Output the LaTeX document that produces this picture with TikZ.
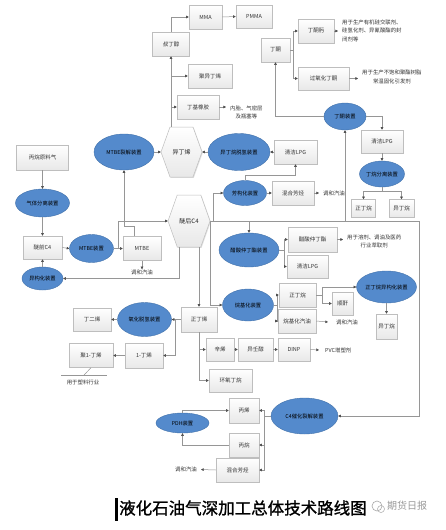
\documentclass[tikz,border=0pt]{standalone}
\usepackage{fontspec}
\newfontfamily\cjk{Noto Sans CJK SC}
\newfontfamily\cjkt[FakeBold=1.2]{Noto Sans CJK SC}
\usetikzlibrary{arrows.meta,shadows,calc,shapes.geometric}
\definecolor{boxline}{RGB}{190,190,190}
\definecolor{ellfill}{RGB}{84,138,204}
\definecolor{ellline}{RGB}{65,113,170}
\definecolor{connc}{RGB}{150,150,150}
\tikzset{
 sz/.style 2 args={minimum width=#1pt,minimum height=#2pt},
 box/.style={draw=boxline, line width=0.5pt, top color=white, bottom color=black!9,
   drop shadow={opacity=0.25,shadow xshift=0.8pt,shadow yshift=-0.8pt},
   inner sep=0pt, font=\cjk\fontsize{5.5}{6.5}\selectfont, text=black!80},
 ell/.style={ellipse, draw=ellline, fill=ellfill, line width=0.4pt, inner sep=0pt,
   font=\cjk\fontsize{5.3}{6.3}\selectfont, text=black},
 hexnode/.style={inner sep=0pt, font=\cjk\fontsize{6}{7}\selectfont, text=black!85},
 note/.style={inner sep=0pt, font=\cjk\fontsize{5.4}{8.5}\selectfont, text=black!80},
 conn/.style={draw=connc, line width=0.5pt},
 arr/.style={conn, -{Triangle[length=2.6pt,width=2.6pt,color=black!70]}},
}
\newcommand\myhex[4]{%
 \path[draw=boxline, line width=0.5pt, top color=white, bottom color=black!9,
   drop shadow={opacity=0.25,shadow xshift=0.8pt,shadow yshift=-0.8pt}]
  ({#1-#3/2},#2) -- ({#1-0.28*#3},{#2-#4/2}) -- ({#1+0.28*#3},{#2-#4/2}) --
  ({#1+#3/2},#2) -- ({#1+0.28*#3},{#2+#4/2}) -- ({#1-0.28*#3},{#2+#4/2}) -- cycle;}
\begin{document}
\begin{tikzpicture}[x=1pt,y=-1pt]
\fill[white] (0,0) rectangle (445,530);
\useasboundingbox (0,0) rectangle (445,530);

% hexagons
\myhex{181.5}{152}{41}{50}
\node[hexnode,sz={41}{50}] (ydx) at (181.5,152) {异丁烯};
\myhex{189}{221}{42}{52}
\node[hexnode,sz={42}{52}] (mhc) at (189,221) {醚后C4};

% boxes
\node[box,sz={33}{24}] (mma) at (205.5,17) {MMA};
\node[box,sz={36}{23}] (pmma) at (254,16.5) {PMMA};
\node[box,sz={37}{24}] (sdc) at (171,44) {叔丁醇};
\node[box,sz={44}{24}] (jyx) at (210,76) {聚异丁烯};
\node[box,sz={42}{24}] (djxj) at (198,107) {丁基橡胶};
\node[box,sz={29}{24}] (dt) at (275.5,50) {丁酮};
\node[box,sz={36}{24}] (dtw) at (316,31) {丁酮肟};
\node[box,sz={51}{23}] (gydt) at (323.5,78.5) {过氧化丁酮};
\node[box,sz={42}{23}] (lpga) at (382,141.5) {清洁LPG};
\node[box,sz={24}{18}] (zdwa) at (363.5,208.5) {正丁烷};
\node[box,sz={25}{18}] (ydwa) at (401.5,208.5) {异丁烷};
\node[box,sz={52}{25}] (bwyl) at (42.5,157.5) {丙烷原料气};
\node[box,sz={39}{23}] (mqc) at (42.5,247.5) {醚前C4};
\node[box,sz={38}{24}] (mtbe) at (142,248.5) {MTBE};
\node[box,sz={43}{24}] (lpgb) at (295.5,152) {清洁LPG};
\node[box,sz={42}{24}] (hhfa) at (293,193) {混合芳烃};
\node[box,sz={49}{25}] (cszz) at (312.5,239.5) {醋酸仲丁酯};
\node[box,sz={41}{23}] (lpgc) at (307.5,266.5) {清洁LPG};
\node[box,sz={37}{24}] (zdwb) at (297.5,295) {正丁烷};
\node[box,sz={38}{24}] (wjqy) at (297,321) {烷基化汽油};
\node[box,sz={21}{23}] (sg) at (342.5,303.5) {顺酐};
\node[box,sz={21}{25}] (ydwb) at (386.5,326.5) {异丁烷};
\node[box,sz={36}{25}] (zdx) at (199,319.5) {正丁烯};
\node[box,sz={38}{23}] (dex) at (92,319.5) {丁二烯};
\node[box,sz={38}{25}] (yd) at (144,355.5) {1-丁烯};
\node[box,sz={44}{24}] (jyd) at (91,355.5) {聚1-丁烯};
\node[box,sz={28}{23}] (xx) at (220,349.5) {辛烯};
\node[box,sz={35}{23}] (yrc) at (255.5,349.5) {异壬醇};
\node[box,sz={32}{23}] (dinp) at (294,349.5) {DINP};
\node[box,sz={43}{23}] (hydw) at (230.5,380.5) {环氧丁烷};
\node[box,sz={30}{25}] (bx) at (244,410.5) {丙烯};
\node[box,sz={30}{24}] (bw) at (244,445) {丙烷};
\node[box,sz={43}{24}] (hhfb) at (237.5,470) {混合芳烃};

% ellipses
\node[ell,sz={42}{27}] (dtzz) at (345,116.5) {丁酮装置};
\node[ell,sz={42}{26}] (dwfl) at (382,174) {丁烷分离装置};
\node[ell,sz={54}{28}] (qtfl) at (42.5,203) {气体分离装置};
\node[ell,sz={44}{28}] (mtzz) at (91.5,248.5) {MTBE装置};
\node[ell,sz={60}{36}] (mtlj) at (124,152) {MTBE裂解装置};
\node[ell,sz={62}{37}] (ydtq) at (239,152) {异丁烷脱氢装置};
\node[ell,sz={43}{25}] (fgh) at (245,193) {芳构化装置};
\node[ell,sz={41}{23}] (ygh) at (42.5,278.5) {异构化装置};
\node[ell,sz={60}{34}] (cszd) at (249,250) {醋酸仲丁酯装置};
\node[ell,sz={51}{32}] (wjh) at (248,305) {烷基化装置};
\node[ell,sz={59}{32}] (zdyg) at (386.5,287) {正丁烷异构化装置};
\node[ell,sz={54}{34}] (yhtq) at (144.5,319.5) {氧化脱氢装置};
\node[ell,sz={67}{36}] (cfour) at (304.5,416) {C4催化裂解装置};
\node[ell,sz={53}{20}] (pdh) at (182.5,423) {PDH装置};

% notes
\node[note,align=center,anchor=west] (tnt) at (230,112.5) {内胎、气密层\\及瓶塞等};
\node[note,align=left,anchor=west] (tdtw) at (342,30.5) {用于生产有机硅交联剂、\\硅氢化剂、异氰酸酯的封\\闭剂等};
\node[note,align=center,anchor=west] (tgy) at (362,77) {用于生产不饱和聚酯树脂\\常温固化引发剂};
\node[note,align=center,anchor=west] (tcs) at (347,241.5) {用于溶剂、调油及医药\\行业萃取剂};
\node[note] (thy1) at (142,272) {调和汽油};
\node[note,anchor=west] (thy2) at (323,193) {调和汽油};
\node[note,anchor=west] (thy3) at (336,322) {调和汽油};
\node[note,anchor=west] (tpvc) at (325,350) {PVC增塑剂};
\node[note,anchor=east] (thy4) at (197,469.5) {调和汽油};
\node[note] (tsl) at (83,382) {用于塑料行业};

% helper coordinates
\coordinate (dtj) at (293,50);
\coordinate (dwj) at (382,191);
\coordinate (mj1) at (118,248.5);
\coordinate (mj2) at (124,226);
\coordinate (r1) at (419,221);
\coordinate (r2) at (419,416);
\coordinate (b1) at (213,221);
\coordinate (csj) at (284,250);
\coordinate (wj) at (277,305);
\coordinate (zj) at (322,295);
\coordinate (yj) at (175,319.5);
\coordinate (cj) at (264,416);
\coordinate (barl) at (61,375);
\coordinate (barr) at (107,375);
\path (djxj.east -| tnt.west) coordinate (tntin);
\path (dtw.east -| tdtw.west) coordinate (tdtwin);
\path (gydt.east -| tgy.west) coordinate (tgyin);
\path (cszz.east -| tcs.west) coordinate (tcsin);

% connectors
\draw[arr] (sdc.north) |- (mma.west);
\draw[arr] (mma.east) -- (pmma.west);
\draw[arr] (sdc.south |- ydx.north) -- (sdc.south);
\draw[arr] (sdc.south |- jyx.west) -- (jyx.west);
\draw[arr] (sdc.south |- djxj.west) -- (djxj.west);
\draw[arr] (djxj.east) -- ([xshift=-4pt]tntin);
\draw[conn] (dt.east) -- (dtj);
\draw[arr] (dtj) |- (dtw.west);
\draw[arr] (dtj) |- (gydt.west);
\draw[arr] (dtw.east) -- ([xshift=-4pt]tdtwin);
\draw[arr] (gydt.east) -- ([xshift=-4pt]tgyin);
\draw[arr] (dtzz.west) -| (dt.south);
\draw[arr] (dtzz.east) -| (lpga.north);
\draw[arr] (lpga.south) -- (dwfl.north);
\draw[conn] (dwfl.south) -- (dwj);
\draw[arr] (dwj) -| (zdwa.north);
\draw[arr] (dwj) -| (ydwa.north);

\draw[arr] (bwyl.south) -- (qtfl.north);
\draw[arr] (qtfl.south) -- (mqc.north);
\draw[arr] (mqc.east) -- (mtzz.west);
\draw[arr] (mtzz.east) -- (mtbe.west);
\draw[arr] (mtbe.south) -- (thy1.north);
\draw[arr] (mj1) |- (mhc.west);
\draw[arr] ([xshift=-8pt]mtbe.north) |- (mj2) -- (mtlj.south);
\draw[arr] (mtlj.east) -- (ydx.west);
\draw[arr] (ydtq.west) -- (ydx.east);
\draw[arr] (lpgb.west) -- (ydtq.east);
\draw[arr] (fgh.north) -- ++(0,-5) -| (lpgb.south);
\draw[arr] (fgh.east) -- (hhfa.west);
\draw[arr] (hhfa.east) -- ([xshift=-4pt]thy2.west);

\draw[arr] (mhc.east) -- (r1) -- (r2) -- (cfour.east);
\draw[arr] (b1) |- (fgh.west);
\draw[arr] (cszd.north |- mhc.east) -- (cszd.north);
\draw[arr] (dtzz.south |- mhc.east) -- (dtzz.south);
\draw[conn] (cszd.east) -- (csj);
\draw[arr] (csj) |- (cszz.west);
\draw[arr] (csj) |- (lpgc.west);
\draw[arr] (cszz.east) -- ([xshift=-4pt]tcsin);
\draw[arr] ([xshift=-10pt]mhc.south) |- (ygh.east);
\draw[arr] (ygh.north) -- (mqc.south);
\draw[arr] ([xshift=10pt]mhc.south) -- (zdx.north);
\draw[arr] (mhc.east) |- (wjh.west);
\draw[conn] (wjh.east) -- (wj);
\draw[arr] (wj) |- (zdwb.west);
\draw[arr] (wj) |- (wjqy.west);
\draw[arr] (wjqy.east) -- ([xshift=-8pt]thy3.west);
\draw[conn] (zdwb.east) -- (zj);
\draw[arr] (zj) |- (zdyg.west);
\draw[arr] (zj) |- (sg.west);
\draw[arr] (zdyg.south) -- (ydwb.north);

\draw[arr] (zdx.west) -- (yhtq.east);
\draw[arr] (yhtq.west) -- (dex.east);
\draw[arr] (yj) |- (yd.east);
\draw[arr] (yd.west) -- (jyd.east);
\draw[conn] (barl) -- (barr);
\draw[conn] (jyd.south) -- ($(barl)!0.5!(barr)$);
\draw[arr] (zdx.south) |- (hydw.west);
\draw[arr] (zdx.south |- xx.west) -- (xx.west);
\draw[arr] (xx.east) -- (yrc.west);
\draw[arr] (yrc.east) -- (dinp.west);
\draw[arr] (dinp.east) -- ([xshift=-6pt]tpvc.west);

\draw[conn] (cfour.west) -- (cj);
\draw[arr] (cj) |- (bx.east);
\draw[arr] (cj) |- (bw.east);
\draw[arr] (cj) |- (hhfb.east);
\draw[arr] (bw.west) -| (pdh.south);
\draw[arr] (pdh.north) |- (bx.west);
\draw[arr] (hhfb.west) -- ([xshift=4pt]thy4.east);

% title
\fill[black] (115,498) rectangle (117.5,521);
\node[font=\cjkt\fontsize{16.5}{17}\selectfont, anchor=west, inner sep=0pt] (title) at (119,508) {液化石油气深加工总体技术路线图};
% watermark
\draw[black!35, line width=0.6pt] (377,506) circle (5);
\draw[black!35, line width=0.5pt] (381,509) circle (3.5);
\node[font=\cjk\fontsize{10}{10}\selectfont, text=black!40, anchor=west, inner sep=0pt] (wm) at (387,506) {期货日报};
\end{tikzpicture}
\end{document}
